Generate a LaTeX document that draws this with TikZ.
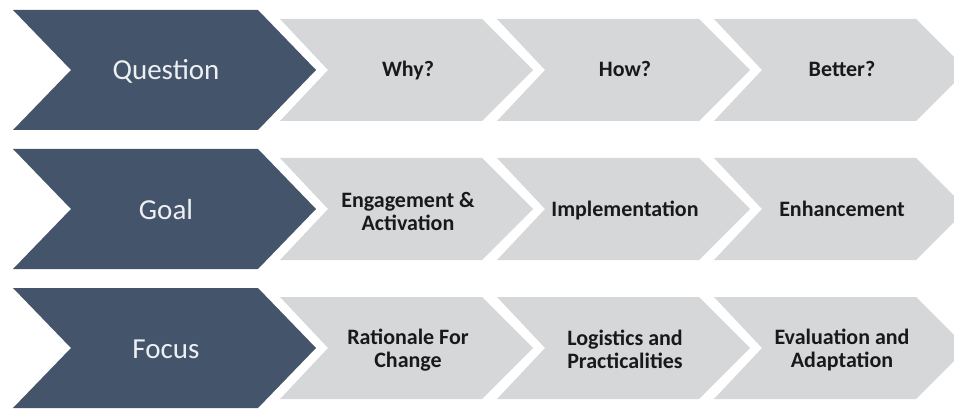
\documentclass[tikz,border=0pt]{standalone}
\usepackage{fontspec}
\setmainfont{Carlito}
\usepackage{xcolor}
\usetikzlibrary{calc, positioning}

\definecolor{slate}{HTML}{44546A}
\definecolor{lightgrey}{HTML}{D6D7D9}
\definecolor{headfg}{HTML}{EDEFF2}

\tikzset{
    darkchev/.style={fill=slate},
    lightchev/.style={fill=lightgrey},
    headtext/.style={text=headfg, font=\fontsize{29}{34}\selectfont, anchor=base},
    celltext/.style={text=black!90, font=\bfseries\fontsize{22}{23}\selectfont, align=center}
}

\begin{document}
\begin{tikzpicture}[x=1pt, y=-1pt]

            \useasboundingbox (0,0) rectangle (954,409);
            \clip (0,0) rectangle (954,409);

            \foreach \cy in {70, 209, 348}{
                \fill[darkchev] (13,\cy-60) -- (258,\cy-60) -- (316,\cy) -- (258,\cy+60) -- (13,\cy+60) -- (71,\cy) -- cycle;
                \foreach \c in {0, 1, 2}{
                    \pgfmathsetmacro\lx{280+217*\c}
                    \fill[lightchev] (\lx,\cy-51) -- (\lx+202,\cy-51) -- (\lx+253,\cy) -- (\lx+202,\cy+51) -- (\lx,\cy+51) -- (\lx+48,\cy) -- cycle;
                }
            }

            \node[headtext] (question) at (166,80) {Question};
            \node[headtext] (goal) at (166,219) {Goal};
            \node[headtext] (focus) at (166,358) {Focus};

            \node[celltext, anchor=base] (why) at (408,77) {Why?};
            \node[celltext, anchor=base] (how) at (625,77) {How?};
            \node[celltext, anchor=base] (better) at (842,77) {Better?};

            \node[celltext] (engage) at (408,211) {Engagement \&\\Activation};
            \node[celltext, anchor=base] (implement) at (625,216) {Implementation};
            \node[celltext, anchor=base] (enhance) at (842,216) {Enhancement};

            \node[celltext] (rationale) at (408,350) {Rationale For\\Change};
            \node[celltext] (logistics) at (625,349) {Logistics and\\Practicalities};
            \node[celltext] (evaluation) at (842,350) {Evaluation and\\Adaptation};

        \end{tikzpicture}
\end{document}
